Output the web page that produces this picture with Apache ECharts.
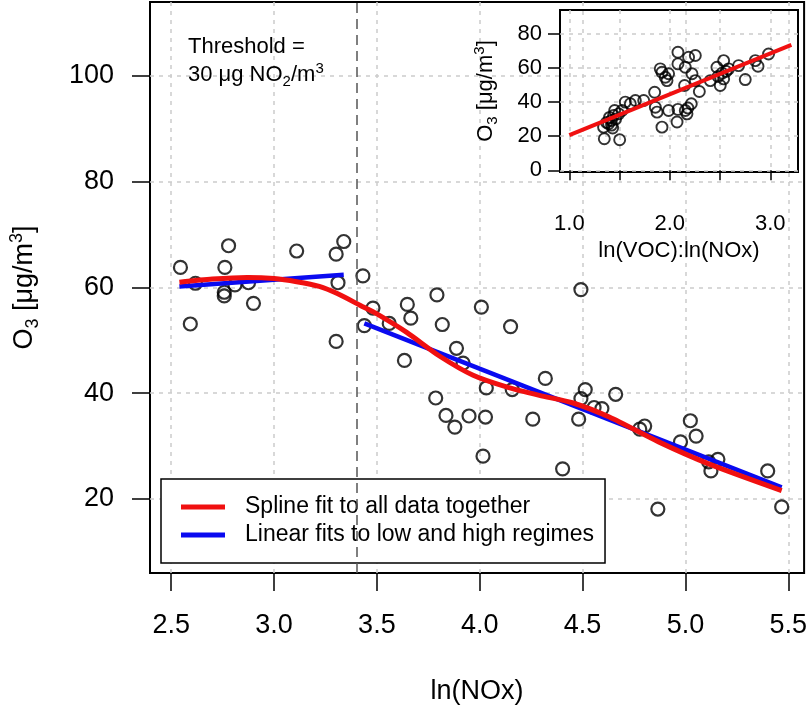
<!DOCTYPE html>
<html><head><meta charset="utf-8">
<script src="https://cdn.jsdelivr.net/npm/echarts@6/dist/echarts.min.js"></script>
<style>html,body{margin:0;padding:0;background:#fff}#c{width:810px;height:715px}</style>
</head><body><div id="c"></div>
<script>
// ---------- data ----------
const lnNOx = [2.545,2.618,2.593,2.779,2.761,2.758,2.758,2.810,2.876,2.900,3.110,3.302,3.339,3.311,3.302,
  3.432,3.439,3.481,3.560,3.648,3.665,3.634,3.792,3.818,3.887,3.919,3.786,3.836,3.879,3.948,
  4.008,4.028,4.032,4.016,4.150,4.158,4.258,4.319,4.403,4.492,4.513,4.492,4.481,4.556,4.594,
  4.661,4.802,4.778,4.866,5.024,5.052,4.976,5.113,5.158,5.124,5.400,5.468];
const o3 = [63.8,60.8,53.1,67.9,63.8,59.1,58.4,60.5,60.9,57.0,66.9,66.3,68.7,60.9,49.8,
  62.2,52.8,56.1,53.2,56.8,54.2,46.2,58.6,53.0,48.5,45.7,39.1,35.8,33.6,35.7,
  56.3,35.5,41.0,28.1,52.6,40.7,35.1,42.8,25.7,59.6,40.7,39.0,35.1,37.3,37.1,
  39.8,33.8,33.2,18.1,34.8,31.9,30.8,27.0,27.5,25.3,25.3,18.5];

const splineX = [2.54,2.70,2.87,3.00,3.11,3.22,3.31,3.42,3.50,3.645,3.806,3.968,4.13,4.29,4.45,4.63,4.87,5.11,5.468];
const splineY = [61.0,61.6,61.9,61.7,61.1,60.2,58.8,56.6,55.0,51.5,47.0,43.4,41.2,39.6,38.2,35.5,30.8,26.7,21.6];

const lowFitX = [2.54,3.339];
const lowFitY = [60.2,62.4];
const highFitX = [3.439,5.468];
const highFitY = [53.2,22.2];

const threshold = 3.40;

const ratioVOC = [1.348,1.501,1.341,1.391,1.431,1.418,1.441,1.451,1.491,1.524,1.557,1.607,1.657,1.740,
  1.849,1.856,1.873,1.922,1.905,1.922,1.955,1.988,1.972,1.988,2.072,2.081,2.081,2.081,
  2.154,2.187,2.254,2.154,2.171,2.147,2.221,2.214,2.254,2.294,2.403,2.469,2.502,2.536,
  2.536,2.585,2.685,2.751,2.851,2.878,2.983,1.420,1.400,1.460,1.370,2.180,2.480,2.520,2.560];
const insetO3 = [18.5,17.9,25.3,27.3,24.8,29.2,32.2,35.1,33.1,35.1,40.0,39.0,40.9,40.9,
  45.8,37.0,34.1,25.3,59.5,57.5,54.6,56.6,52.6,35.1,28.3,35.7,69.2,62.4,
  60.4,66.3,67.3,35.1,33.1,49.7,56.6,39.0,52.6,46.2,52.6,60.4,49.7,64.3,
  53.6,59.5,61.4,53.2,64.3,61.0,68.2,26.5,31.0,30.0,28.0,36.5,55.0,57.0,58.0];

const insetFitX = [1.0,3.21];
const insetFitY = [20.6,73.6];

const xTicks = [2.5,3.0,3.5,4.0,4.5,5.0,5.5];
const yTicks = [20,40,60,80,100];
const insetXTicks = [1.0,1.5,2.0,2.5,3.0];
const insetXLabels = [1.0,2.0,3.0];
const insetYTicks = [0,20,40,60,80];

const SPLINE = 'Spline fit to all data together';
const LINEAR = 'Linear fits to low and high regimes';

// ---------- chart ----------
const FONT = 'Liberation Sans, Arial, Helvetica, sans-serif';
const zip = (a, b) => a.map((v, i) => [v, b[i]]);
const gridLine = {show: true, lineStyle: {color: '#cccccc', type: [4, 5], width: 1.5}};
const tickStyle = {color: '#000', width: 1.5};
const RED = '#f01010', BLUE = '#0a0af0';

const chart = echarts.init(document.getElementById('c'), null, {renderer: 'canvas'});
chart.setOption({
  animation: false,
  backgroundColor: '#fff',
  grid: [
    {left: 149, top: 2, width: 657, height: 571, show: true, borderColor: '#000', borderWidth: 2, backgroundColor: 'transparent'},
    {left: 560, top: 10, width: 238, height: 162, show: true, borderColor: '#000', borderWidth: 2, backgroundColor: 'transparent'}
  ],
  xAxis: [
    {type: 'value', gridIndex: 0, min: 2.397, max: 5.577,
     axisLine: {show: false},
     axisTick: {show: true, customValues: xTicks, length: 18, lineStyle: tickStyle},
     axisLabel: {customValues: xTicks, formatter: v => v.toFixed(1), fontSize: 27, color: '#000', margin: 39, fontFamily: FONT},
     splitLine: gridLine,
     name: 'ln(NOx)', nameLocation: 'middle', nameGap: 105,
     nameTextStyle: {fontSize: 27, color: '#000', fontFamily: FONT}},
    {type: 'value', gridIndex: 1, min: 0.907, max: 3.276, offset: 10,
     axisLine: {show: false},
     axisTick: {show: true, customValues: insetXTicks, length: 10, lineStyle: tickStyle},
     axisLabel: {customValues: insetXLabels, formatter: v => v.toFixed(1), fontSize: 22, color: '#000', margin: 31, fontFamily: FONT},
     splitLine: gridLine,
     name: 'ln(VOC):ln(NOx)', nameLocation: 'middle', nameGap: 58,
     nameTextStyle: {fontSize: 22, color: '#000', fontFamily: FONT}}
  ],
  yAxis: [
    {type: 'value', gridIndex: 0, min: 6, max: 114,
     axisLine: {show: false},
     axisTick: {show: true, customValues: yTicks, length: 18, lineStyle: tickStyle},
     axisLabel: {customValues: yTicks, fontSize: 27, color: '#000', margin: 36, fontFamily: FONT},
     splitLine: gridLine,
     name: '{a|O}{sub|3}{a| [μg/m}{sup|3}{a|]}', nameLocation: 'middle', nameGap: 108,
     nameTextStyle: {fontSize: 27, color: '#000', fontFamily: FONT,
       rich: {a: {fontSize: 27, lineHeight: 34, color: '#000', fontFamily: FONT},
              sub: {fontSize: 18, lineHeight: 18, verticalAlign: 'bottom', color: '#000', fontFamily: FONT},
              sup: {fontSize: 18, lineHeight: 18, verticalAlign: 'top', color: '#000', fontFamily: FONT}}}},
    {type: 'value', gridIndex: 1, min: -1, max: 94,
     axisLine: {show: false},
     axisTick: {show: true, customValues: insetYTicks, length: 12, lineStyle: tickStyle},
     axisLabel: {customValues: insetYTicks, fontSize: 22, color: '#000', margin: 18, fontFamily: FONT},
     splitLine: gridLine,
     name: '{a|O}{sub|3}{a| [μg/m}{sup|3}{a|]}', nameLocation: 'middle', nameGap: 60,
     nameTextStyle: {fontSize: 22, color: '#000', fontFamily: FONT,
       rich: {a: {fontSize: 22, lineHeight: 28, color: '#000', fontFamily: FONT},
              sub: {fontSize: 15, lineHeight: 15, verticalAlign: 'bottom', color: '#000', fontFamily: FONT},
              sup: {fontSize: 15, lineHeight: 15, verticalAlign: 'top', color: '#000', fontFamily: FONT}}}}
  ],
  legend: {
    data: [{name: SPLINE, icon: 'rect', itemStyle: {color: RED}}, {name: LINEAR, icon: 'rect', itemStyle: {color: BLUE}}],
    orient: 'vertical', left: 161, top: 479,
    padding: [16, 11, 16, 20], itemGap: 4,
    itemWidth: 44, itemHeight: 5,
    backgroundColor: '#fff', borderColor: '#000', borderWidth: 1.5, borderRadius: 0,
    selectedMode: false,
    textStyle: {fontSize: 23, color: '#000', lineHeight: 24, fontFamily: FONT, padding: [0, 0, 0, 15]}
  },
  graphic: [{
    type: 'text', left: 188, top: 36, z: 10,
    style: {
      text: '{a|Threshold =}\n{a|30 μg NO}{sub|2}{a|/m}{sup|3}',
      rich: {a: {fontSize: 22, lineHeight: 28, fill: '#000', fontFamily: FONT},
             sub: {fontSize: 15, lineHeight: 15, verticalAlign: 'bottom', fill: '#000', fontFamily: FONT},
             sup: {fontSize: 15, lineHeight: 15, verticalAlign: 'top', fill: '#000', fontFamily: FONT}}
    }
  }],
  series: [
    {type: 'scatter', name: 'obs', xAxisIndex: 0, yAxisIndex: 0, data: zip(lnNOx, o3),
     symbol: 'circle', symbolSize: 13, z: 2, silent: true,
     itemStyle: {color: 'rgba(0,0,0,0)', borderColor: '#000', borderWidth: 2.2},
     markLine: {silent: true, symbol: ['none', 'none'], label: {show: false},
       lineStyle: {type: [10, 6], color: '#555', width: 1.5},
       data: [{xAxis: threshold}]}},
    {type: 'line', name: LINEAR, xAxisIndex: 0, yAxisIndex: 0, data: zip(lowFitX, lowFitY),
     symbol: 'none', z: 3, silent: true, lineStyle: {color: BLUE, width: 4.5}, itemStyle: {color: BLUE}},
    {type: 'line', name: LINEAR, xAxisIndex: 0, yAxisIndex: 0, data: zip(highFitX, highFitY),
     symbol: 'none', z: 3, silent: true, lineStyle: {color: BLUE, width: 4.5}, itemStyle: {color: BLUE}},
    {type: 'line', name: SPLINE, xAxisIndex: 0, yAxisIndex: 0, data: zip(splineX, splineY),
     symbol: 'none', smooth: 0.25, z: 4, silent: true,
     lineStyle: {color: RED, width: 5}, itemStyle: {color: RED}},
    {type: 'scatter', name: 'inset', xAxisIndex: 1, yAxisIndex: 1, data: zip(ratioVOC, insetO3),
     symbol: 'circle', symbolSize: 11, z: 2, silent: true,
     itemStyle: {color: 'rgba(0,0,0,0)', borderColor: '#000', borderWidth: 1.9}},
    {type: 'line', name: 'insetFit', xAxisIndex: 1, yAxisIndex: 1, data: zip(insetFitX, insetFitY),
     symbol: 'none', z: 4, silent: true, lineStyle: {color: RED, width: 4}, itemStyle: {color: RED}}
  ]
});
</script></body></html>
